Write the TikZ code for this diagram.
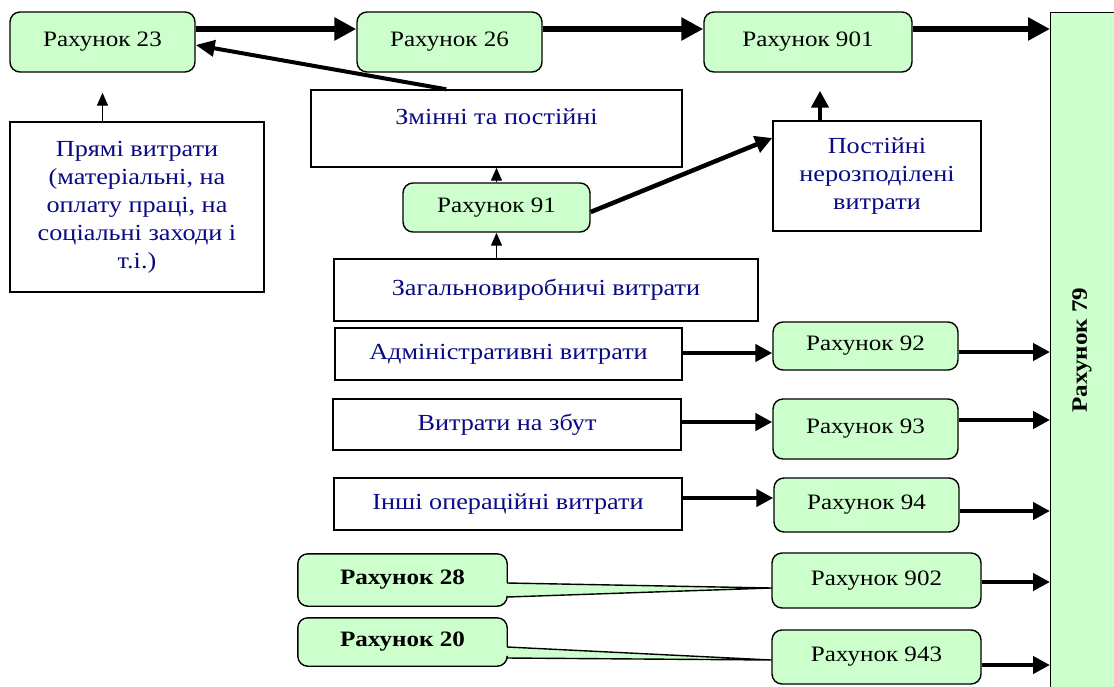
\documentclass[tikz,border=0pt]{standalone}
\usepackage{fontspec}
\setmainfont[FakeStretch=1.14]{Liberation Serif}
\usetikzlibrary{arrows.meta,calc}

\definecolor{boxgreen}{HTML}{CCFFCC}
\definecolor{inkblue}{HTML}{0A0A85}

\newcommand\acctfont{\fontsize{22}{28}\selectfont}
\newcommand\costfont{\fontsize{23}{28}\selectfont}

\tikzset{
  acct/.style={draw, line width=1.4pt, fill=boxgreen, rounded corners=10pt,
    inner sep=0pt, font=\acctfont},
  costbox/.style={draw, line width=1.4pt, fill=white, inner sep=0pt,
    text=inkblue, font=\costfont, align=center},
  calloutbody/.style={fill=boxgreen, rounded corners=10pt, inner sep=0pt,
    font=\acctfont\bfseries},
  outline/.style={line width=1.4pt, line join=round},
  heavyarrow/.style={line width=6pt, -{Triangle[length=22pt,width=22pt]}},
  midarrow/.style={line width=4.5pt, -{Triangle[length=17pt,width=17pt]}},
  slimarrow/.style={line width=1.4pt, -{Triangle[length=13pt,width=11pt]}},
}

\begin{document}
\begin{tikzpicture}[x=1pt,y=-1pt]
\useasboundingbox (0,0) rectangle (1114,686);
\clip (0,0) rectangle (1114,686);

% account 79, the collecting bar on the right
\node[draw, line width=1.4pt, fill=boxgreen, minimum width=80pt, minimum height=700pt,
      inner sep=0pt, anchor=north west] (bar) at (1050,12) {};
\node[rotate=90, font=\acctfont\bfseries] (bartext) at (1082,350) {Рахунок 79};

% top row of accounts
\node[acct, minimum width=185pt, minimum height=60pt] (r23)  at (102.5,42) {Рахунок 23};
\node[acct, minimum width=185pt, minimum height=60pt] (r26)  at (449.5,42) {Рахунок 26};
\node[acct, minimum width=208pt, minimum height=60pt] (r901) at (808,42)   {Рахунок 901};

% cost boxes
\node[costbox, minimum width=254pt, minimum height=170pt] (pryami) at (137,207)
  {Прямі витрати\\(матеріальні, на\\оплату праці, на\\соціальні заходи і\\т.і.)};
\node[costbox, minimum width=371pt, minimum height=77pt] (zm) at (496.5,128.5) {};
\node[text=inkblue, font=\costfont, inner sep=0pt] (zmtext) at (496.5,117) {Змінні та постійні};
\node[costbox, minimum width=208pt, minimum height=110pt] (post) at (877,176)
  {Постійні\\нерозподілені\\витрати};
\node[acct, minimum width=187pt, minimum height=49pt] (r91) at (496.5,207.5) {Рахунок 91};
\node[costbox, minimum width=424pt, minimum height=62pt] (zag) at (546,290)
  {Загальновиробничі витрати};
\node[costbox, minimum width=347pt, minimum height=52pt] (adm) at (508.5,354)
  {Адміністративні витрати};
\node[costbox, minimum width=348pt, minimum height=51pt] (zbut) at (507,424.5)
  {Витрати на збут};
\node[costbox, minimum width=348pt, minimum height=52pt] (inshi) at (508,504)
  {Інші операційні витрати};

% accounts on the right
\node[acct, minimum width=185pt, minimum height=48pt] (r92)  at (865.5,346) {Рахунок 92};
\node[acct, minimum width=185pt, minimum height=60pt] (r93)  at (865.5,429) {Рахунок 93};
\node[acct, minimum width=185pt, minimum height=54pt] (r94)  at (866.5,505) {Рахунок 94};
\node[acct, minimum width=209pt, minimum height=55pt] (r902) at (876.5,580.5) {Рахунок 902};
\node[acct, minimum width=209pt, minimum height=54pt] (r943) at (876.5,657) {Рахунок 943};

% callout wedges of accounts 28 and 20
\coordinate (t28) at ([yshift=-7.5pt]r902.west);
\coordinate (t20) at ([yshift=-3pt]r943.west);
\fill[boxgreen] (t28) -- (507,583) -- (507,597) -- cycle;
\fill[boxgreen] (t20) -- (507,647) -- (507,658) -- cycle;
\node[calloutbody, minimum width=209pt, minimum height=52pt] (r28) at (402.5,580) {Рахунок 28};
\node[calloutbody, minimum width=209pt, minimum height=48pt] (r20) at (402.5,642) {Рахунок 20};
\coordinate (a28) at ([yshift=-3pt]r28.east);
\coordinate (f28) at ([yshift=-17pt]r28.east);
\coordinate (a20) at ([yshift=-5pt]r20.east);
\coordinate (f20) at ([yshift=-16pt]r20.east);
\draw[outline, rounded corners=10pt] (a28) -- (r28.north east) -- (r28.north west)
  -- (r28.south west) -- (r28.south east) -- (f28);
\draw[outline] (a28) -- (t28) -- (f28);
\draw[outline, rounded corners=10pt] (a20) -- (r20.north east) -- (r20.north west)
  -- (r20.south west) -- (r20.south east) -- (f20);
\draw[outline] (a20) -- (t20) -- (f20);

% flows along the top
\draw[heavyarrow] (r23.east |- 0,29) -- (r26.west |- 0,29);
\draw[heavyarrow] (r26.east |- 0,29) -- (r901.west |- 0,29);
\draw[heavyarrow] (r901.east |- 0,29) -- (bar.west |- 0,29);
\draw[line width=4pt, -{Triangle[length=19pt,width=16pt]}]
  ([xshift=136pt]zm.north west) -- ([yshift=-3pt]r23.east);

% flows into the accounts 23, 91 and the mixed box
\coordinate (t23) at ([yshift=-20pt]r23.south);
\draw[slimarrow] (pryami.north -| t23) -- (t23);
\draw[slimarrow] (r91.north) -- (zm.south);
\draw[slimarrow] (zag.north -| r91.south) -- (r91.south);
\draw[midarrow] ([yshift=-4.5pt]r91.east) -- ([yshift=38pt]post.west);
\coordinate (t901) at ([xshift=12pt,yshift=-18pt]r901.south);
\draw[midarrow] (post.north -| t901) -- (t901);

% period costs to their accounts
\draw[midarrow] (adm.east |- 0,353) -- (r92.west |- 0,353);
\draw[midarrow] (zbut.east |- 0,422) -- (r93.west |- 0,422);
\draw[midarrow] (inshi.east |- 0,498) -- (r94.west |- 0,498);

% accounts closed to account 79
\draw[midarrow] (r92.east |- 0,352) -- (bar.west |- 0,352);
\draw[midarrow] (r93.east |- 0,420) -- (bar.west |- 0,420);
\draw[midarrow] (r94.east |- 0,511) -- (bar.west |- 0,511);
\draw[midarrow] (r902.east |- 0,582) -- (bar.west |- 0,582);
\draw[midarrow] (r943.east |- 0,665) -- (bar.west |- 0,665);
\end{tikzpicture}
\end{document}
